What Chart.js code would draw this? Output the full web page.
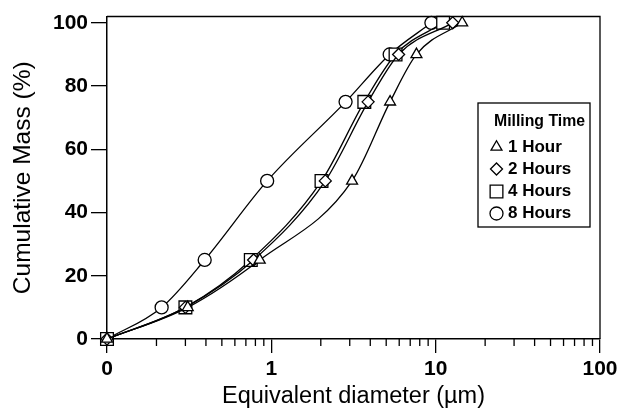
<!DOCTYPE html>
<html>
<head>
<meta charset="utf-8">
<script src="https://cdn.jsdelivr.net/npm/chart.js@4.4.1/dist/chart.umd.min.js"></script>
<style>
  html, body { margin: 0; padding: 0; background: #fff; }
  #wrap { width: 638px; height: 413px; }
</style>
</head>
<body>
<div id="wrap"><canvas id="psdChart" width="638" height="413"></canvas></div>
<script>
// ===== Data =====
const cumMass = [0, 10, 25, 50, 75, 90, 100];
const dia1h = [0.1, 0.31, 0.85, 3.1, 5.28, 7.64, 14.5];
const dia2h = [0.1, 0.3, 0.78, 2.13, 3.88, 5.95, 12.7];
const dia4h = [0.1, 0.3, 0.75, 2.02, 3.68, 5.7, 11.1];
const dia8h = [0.1, 0.215, 0.393, 0.943, 2.83, 5.25, 9.42];
const seriesLabels = ["1 Hour", "2 Hours", "4 Hours", "8 Hours"];
const legendTitle = "Milling Time";
const xTickValues = [0.1, 1, 10, 100];
const xTickLabels = ["0", "1", "10", "100"];
const xMinorTicks = [0.2, 0.3, 0.4, 0.5, 0.6, 0.7, 0.8, 0.9, 2, 3, 4, 5, 6, 7, 8, 9, 20, 30, 40, 50, 60, 70, 80, 90];
const yTickValues = [0, 20, 40, 60, 80, 100];

const FONT = '"Liberation Sans", Arial, sans-serif';
const markers = [
    { style: "triangle", r: 6.3 },
    { style: "rectRot", r: 6 },
    { style: "rect", r: 9 },
    { style: "circle", r: 6.5 }
];

function toPoints(dia) {
    return dia.map((d, i) => ({ x: d, y: cumMass[i] }));
}

const datasets = [dia1h, dia2h, dia4h, dia8h].map((dia, i) => ({
    label: seriesLabels[i],
    data: toPoints(dia),
    showLine: true,
    borderColor: "#000",
    borderWidth: 1.3,
    cubicInterpolationMode: "monotone",
    pointStyle: markers[i].style,
    pointRadius: markers[i].r,
    pointBackgroundColor: "#fff",
    pointBorderColor: "#000",
    pointBorderWidth: 1.3,
    clip: false
}));

// ===== Frame, minor ticks and boxed legend =====
const extrasPlugin = {
    id: "extras",
    afterDraw(chart) {
        const { ctx, chartArea: a, scales: { x } } = chart;
        ctx.save();
        ctx.strokeStyle = "#000";
        ctx.lineWidth = 1.3;
        ctx.beginPath();
        ctx.moveTo(a.left, a.top);
        ctx.lineTo(a.right, a.top);
        ctx.lineTo(a.right, a.bottom);
        xMinorTicks.forEach(v => {
            const px = x.getPixelForValue(v);
            ctx.moveTo(px, a.bottom);
            ctx.lineTo(px, a.bottom + 7);
        });
        ctx.stroke();

        // legend box
        const bx = 478, by = 103, bw = 112, bh = 124;
        ctx.fillStyle = "#fff";
        ctx.fillRect(bx, by, bw, bh);
        ctx.strokeRect(bx, by, bw, bh);

        ctx.fillStyle = "#000";
        ctx.textBaseline = "middle";
        ctx.textAlign = "left";
        ctx.font = "bold 15.8px " + FONT;
        ctx.fillText(legendTitle, 494, 122);

        const rowY = [147, 169, 191.5, 213.5];
        seriesLabels.forEach((lab, i) => {
            ctx.fillStyle = "#fff";
            ctx.strokeStyle = "#000";
            ctx.lineWidth = 1.3;
            Chart.helpers.drawPoint(ctx, {
                pointStyle: markers[i].style,
                radius: markers[i].r,
                rotation: 0,
                borderWidth: 1.3
            }, 496.5, rowY[i]);
            ctx.fillStyle = "#000";
            ctx.font = "bold 17px " + FONT;
            ctx.fillText(lab, 508, rowY[i]);
        });
        ctx.restore();
    }
};

new Chart(document.getElementById("psdChart").getContext("2d"), {
    type: "scatter",
    data: { datasets },
    options: {
        responsive: false,
        animation: false,
        layout: { padding: { top: 16.5, right: 38, left: 0, bottom: 0 } },
        plugins: {
            legend: { display: false },
            tooltip: { enabled: false }
        },
        scales: {
            x: {
                type: "logarithmic",
                min: 0.1,
                max: 100,
                afterBuildTicks: s => { s.ticks = xTickValues.map(v => ({ value: v })); },
                afterFit: s => { s.height = 74; },
                ticks: {
                    callback: (v, i) => xTickLabels[i],
                    autoSkip: false,
                    maxRotation: 0,
                    padding: 4,
                    color: "#000",
                    font: { family: FONT, size: 21, weight: "bold" }
                },
                grid: { drawOnChartArea: false, drawTicks: true, tickLength: 14, color: "#000", lineWidth: 1.3 },
                border: { display: true, color: "#000", width: 1.5 },
                title: {
                    display: true,
                    text: "Equivalent diameter (µm)",
                    color: "#000",
                    font: { family: FONT, size: 23.5 },
                    padding: { top: 0, bottom: 2 }
                }
            },
            y: {
                min: 0,
                max: 102,
                afterBuildTicks: s => { s.ticks = yTickValues.map(v => ({ value: v })); },
                afterFit: s => { s.width = 107; },
                ticks: {
                    padding: 3,
                    color: "#000",
                    font: { family: FONT, size: 21, weight: "bold" }
                },
                grid: { drawOnChartArea: false, drawTicks: true, tickLength: 16, color: "#000", lineWidth: 1.3 },
                border: { display: true, color: "#000", width: 1.5 },
                title: {
                    display: true,
                    text: "Cumulative Mass (%)",
                    color: "#000",
                    font: { family: FONT, size: 24.5 },
                    padding: { top: 9, bottom: 0 }
                }
            }
        }
    },
    plugins: [extrasPlugin]
});
</script>
</body>
</html>
